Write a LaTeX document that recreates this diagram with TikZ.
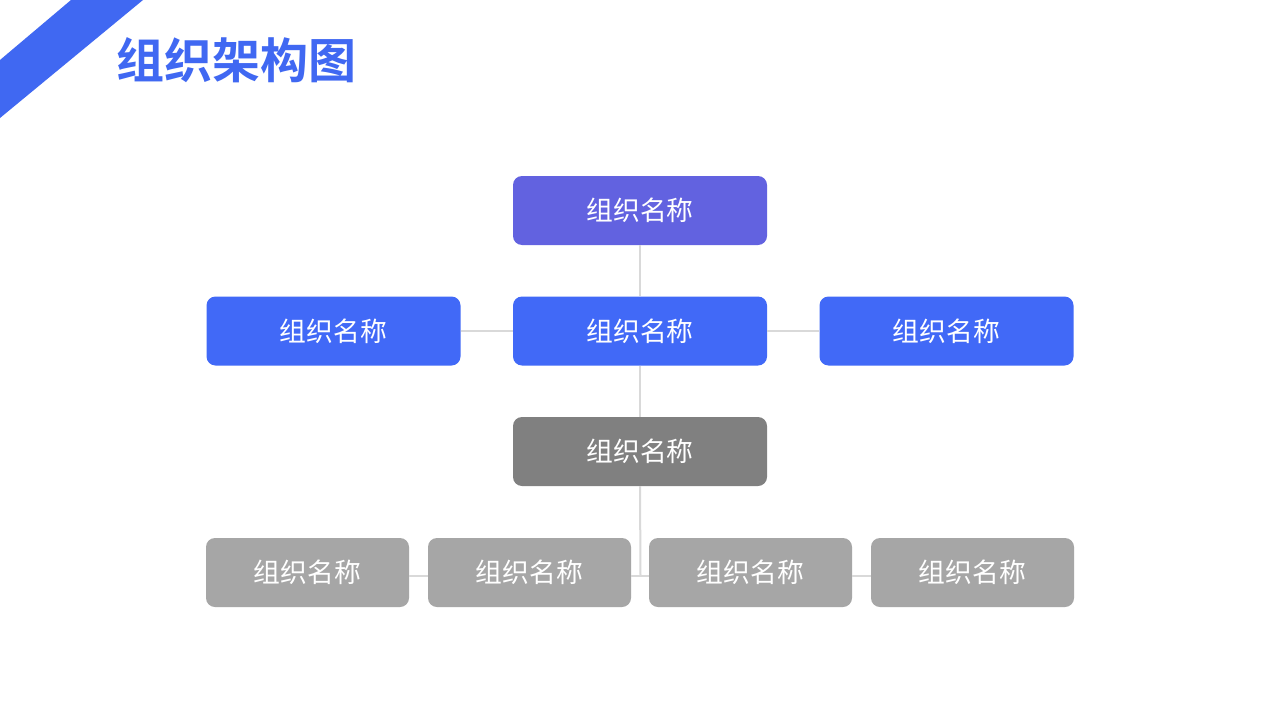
\documentclass[tikz,border=0pt]{standalone}
\usepackage{fontspec}
\newfontfamily\cjk{Noto Sans CJK SC}
\newfontfamily\cjkbold{Noto Sans CJK SC Bold}
\definecolor{titleblue}{HTML}{4068F2}
\definecolor{topc}{HTML}{6262E0}
\definecolor{midc}{HTML}{4169F7}
\definecolor{grayc}{HTML}{808080}
\definecolor{lgrayc}{HTML}{A6A6A6}
\definecolor{linec}{HTML}{D9D9D9}
\begin{document}
\begin{tikzpicture}[x=1pt,y=-1pt,
  orgbox/.style={rounded corners=9pt, text=white, font=\cjk\fontsize{26.8}{30}\selectfont, inner sep=0pt, minimum height=69pt},
  wide/.style={orgbox, minimum width=254pt},
  narrow/.style={orgbox, minimum width=203pt},
  conn/.style={draw=linec, line width=2pt}]
\useasboundingbox (0,0) rectangle (1280,720);
\fill[white] (0,0) rectangle (1280,720);
\fill[titleblue] (71,0) -- (143,0) -- (0,118) -- (0,60) -- cycle;
\node[anchor=west, text=titleblue, font=\cjkbold\fontsize{48}{52}\selectfont, inner sep=0pt] (title) at (116,60) {组织架构图};
\coordinate (j) at (640.5,576);
\node[wide, fill=topc] (top) at (640,210.5) {组织名称};
\node[wide, fill=midc] (mc) at (640,331) {组织名称};
\node[wide, fill=midc] (ml) at (333.5,331) {组织名称};
\node[wide, fill=midc] (mr) at (946.5,331) {组织名称};
\node[wide, fill=grayc] (g) at (640,451.5) {组织名称};
\node[narrow, fill=lgrayc] (b1) at (307.5,572.5) {组织名称};
\node[narrow, fill=lgrayc] (b2) at (529.5,572.5) {组织名称};
\node[narrow, fill=lgrayc] (b3) at (750.5,572.5) {组织名称};
\node[narrow, fill=lgrayc] (b4) at (972.5,572.5) {组织名称};
\draw[conn] (top.south) -- (mc.north);
\draw[conn] (mc.south) -- (g.north);
\draw[conn] (ml.east) -- (mc.west);
\draw[conn] (mc.east) -- (mr.west);
\draw[conn] (g.south) -- (j);
\draw[conn] (b2.east |- j) -- (b3.west |- j);
\draw[conn] (b1.east |- j) -- (b2.west |- j);
\draw[conn] (b3.east |- j) -- (b4.west |- j);
\end{tikzpicture}
\end{document}
